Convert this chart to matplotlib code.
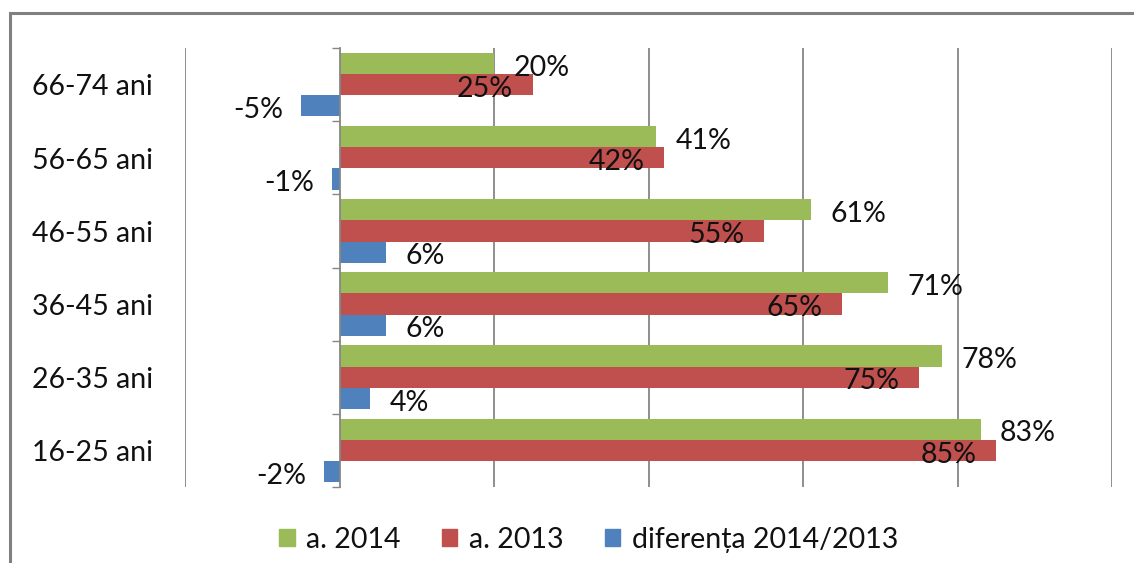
import numpy as np
import matplotlib.pyplot as plt
from matplotlib.patches import Patch, Rectangle

plt.rcParams['font.family'] = ['Lato', 'DejaVu Sans']

# data, top to bottom as in the chart
categories = ["66-74 ani", "56-65 ani", "46-55 ani", "36-45 ani", "26-35 ani", "16-25 ani"]
val_2014 = [20, 41, 61, 71, 78, 83]
val_2013 = [25, 42, 55, 65, 75, 85]
val_diff = [-5, -1, 6, 6, 4, -2]
series_names = ["a. 2014", "a. 2013", "diferența 2014/2013"]

green = "#9BBB59"
red = "#C0504D"
blue = "#4F81BD"
grid_col = "#868686"
fs = 20.5

fig = plt.figure(figsize=(11.34, 5.63), dpi=100, facecolor="w")
ax = fig.add_axes([185 / 1134, 1 - 487 / 563, (1112 - 185) / 1134, (487 - 48) / 563])

y = np.arange(len(categories))
h = 0.29
ax.barh(y - h, val_2014, height=h, color=green, zorder=3)
ax.barh(y, val_2013, height=h, color=red, zorder=3)
ax.barh(y + h, val_diff, height=h, color=blue, zorder=3)

ax.set_xlim(-20, 100)
ax.set_ylim(len(categories) - 0.5, -0.5)

# gridlines
for gx in range(-20, 101, 20):
    if gx != 0:
        ax.axvline(gx, color=grid_col, lw=1.3, zorder=1)

for s in ["top", "right", "bottom"]:
    ax.spines[s].set_visible(False)
ax.spines["left"].set_position(("data", 0))
ax.spines["left"].set_color(grid_col)
ax.spines["left"].set_linewidth(1.3)
ax.spines["left"].set_zorder(4)
ax.set_xticks([])
ax.set_yticks(np.arange(-0.5, len(categories), 1.0))
ax.set_yticklabels([])
ax.tick_params(axis="y", direction="out", length=5.5, width=1, color=grid_col)

# category labels
for i, c in enumerate(categories):
    ax.annotate(c, xy=(-20, i), xytext=(-23, -2), textcoords="offset points",
                ha="right", va="center", fontsize=fs, color="#111111")

# data labels
lbl = dict(fontsize=fs, color="#111111", va="center", textcoords="offset points", zorder=5)
for i in range(len(categories)):
    ax.annotate(f"{val_2014[i]}%", xy=(val_2014[i], y[i] - h), xytext=(14, -3), ha="left", **lbl)
    ax.annotate(f"{val_2013[i]}%", xy=(val_2013[i], y[i]), xytext=(-14, -3), ha="right", **lbl)
    d = val_diff[i]
    if d < 0:
        ax.annotate(f"{d}%", xy=(d, y[i] + h), xytext=(-13, -3), ha="right", **lbl)
    else:
        ax.annotate(f"{d}%", xy=(d, y[i] + h), xytext=(14, -3), ha="left", **lbl)

handles = [Patch(color=green), Patch(color=red), Patch(color=blue)]
fig.legend(handles, series_names, loc="center", bbox_to_anchor=(0.519, 0.041), ncol=3,
           frameon=False, fontsize=fs, handlelength=0.55, handleheight=0.55,
           handletextpad=0.4, columnspacing=1.45, labelcolor="#111111")

# chart border (cropped at right/bottom)
fig.patches.append(Rectangle((10 / 1134, -0.05), 1.1, 1 - 13 / 563 + 0.05,
                             transform=fig.transFigure, fill=False,
                             edgecolor="#808080", lw=2.2))

fig.savefig("out.png", dpi=100)
